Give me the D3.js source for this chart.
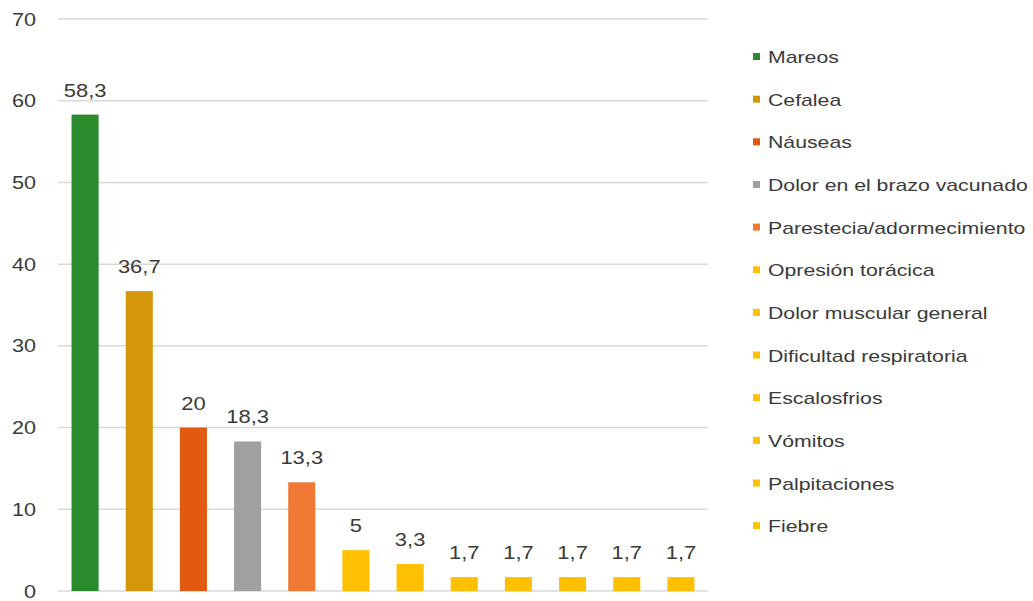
<!DOCTYPE html>
<html><head><meta charset="utf-8">
<script src="https://cdn.jsdelivr.net/npm/d3@7"></script>
<style>body{margin:0;background:#fff}svg{display:block}text{font-family:"Liberation Sans",Arial,sans-serif;fill:#3a3a3a}</style>
</head><body><svg id="c" width="1033" height="601"></svg>
<script>
const categories = ["Mareos","Cefalea","Náuseas","Dolor en el brazo vacunado","Parestecia/adormecimiento","Opresión torácica","Dolor muscular general","Dificultad respiratoria","Escalosfrios","Vómitos","Palpitaciones","Fiebre"];
const values = [58.3,36.7,20,18.3,13.3,5,3.3,1.7,1.7,1.7,1.7,1.7];
const valueLabels = ["58,3","36,7","20","18,3","13,3","5","3,3","1,7","1,7","1,7","1,7","1,7"];
const colors = ["#2b8a2b","#d4960a","#e25a12","#a0a0a0","#f07a35","#fec000","#fec000","#fec000","#fec000","#fec000","#fec000","#fec000"];
const yTicks = [0,10,20,30,40,50,60,70];

const svg = d3.select("#c");
const x = d3.scaleBand().domain(categories).range([58,708]).paddingInner(0.5).paddingOuter(0.25);
const y = d3.scaleLinear().domain([0,70]).range([591,19]);

// gridlines
svg.append("g").selectAll("line").data(yTicks).join("line")
  .attr("x1",58).attr("x2",708).attr("y1",d=>y(d)).attr("y2",d=>y(d))
  .attr("stroke","#d9d9d9").attr("stroke-width",1.5);

// y labels
svg.append("g").selectAll("text").data(yTicks).join("text")
  .attr("transform",d=>`translate(36,${y(d)+6.5}) scale(1.2,1)`)
  .attr("text-anchor","end").style("font-size","18px").text(d=>d);

// bars
svg.append("g").selectAll("rect").data(values).join("rect")
  .attr("x",(d,i)=>x(categories[i])).attr("width",x.bandwidth())
  .attr("y",d=>y(d)).attr("height",d=>y(0)-y(d))
  .attr("fill",(d,i)=>colors[i]);

// value labels
svg.append("g").selectAll("text").data(values).join("text")
  .attr("transform",(d,i)=>`translate(${x(categories[i])+x.bandwidth()/2},${y(d)-18}) scale(1.22,1)`)
  .attr("text-anchor","middle").style("font-size","18px").text((d,i)=>valueLabels[i]);

// legend
const lg = svg.append("g").selectAll("g").data(categories).join("g")
  .attr("transform",(d,i)=>`translate(753,${57+i*42.65})`);
lg.append("rect").attr("x",0).attr("y",-4).attr("width",7).attr("height",7).attr("fill",(d,i)=>colors[i]);
lg.append("text").attr("transform","translate(15,6) scale(1.25,1)").style("font-size","17px").text(d=>d);
</script></body></html>
